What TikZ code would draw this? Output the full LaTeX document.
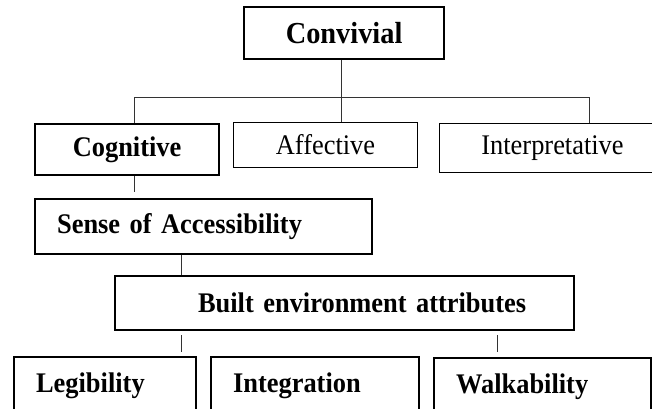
\documentclass[tikz,border=0pt]{standalone}
\usepackage{fontspec}
\setmainfont{Liberation Serif}[FakeStretch = 0.93]

\begin{document}
\begin{tikzpicture}[x = 1pt, y = -1pt]
	\tikzstyle{thickBox} = [draw, line width = 2.2pt, anchor = north west, inner sep = 0pt, font = \fontsize{28.4}{32}\selectfont\bfseries]
	\tikzstyle{thinBox} = [draw, line width = 1pt, anchor = north west, inner sep = 0pt, font = \fontsize{28.4}{32}\selectfont]
	\tikzstyle{leftText} = [inner xsep = 22pt, align = left]
	\tikzstyle{link} = [draw = black!80, line width = 1pt]
	\useasboundingbox (0, 0) rectangle (652, 408);
	% top level
	\node[thickBox, minimum width = 200pt, minimum height = 52pt, font = \fontsize{30.5}{34}\selectfont\bfseries] (conv) at (243, 6) {Convivial};
	% second level
	\node[thickBox, minimum width = 184pt, minimum height = 51pt] (cog) at (34, 123) {Cognitive};
	\node[thinBox, minimum width = 184pt, minimum height = 45pt] (aff) at (233, 122) {Affective};
	\node[thinBox, minimum width = 226pt, minimum height = 49pt] (interp) at (439, 123) {Interpretative};
	% cognitive branch
	\node[thickBox, leftText, text width = 293pt, minimum height = 55pt] (soa) at (34, 198) {Sense of Accessibility};
	\node[thickBox, align = left, text width = 459pt, minimum height = 54pt] (built) at (114, 275) {\hspace*{83pt}Built environment attributes};
	\node[thickBox, leftText, text width = 138pt, minimum height = 58pt] (leg) at (13, 356) {Legibility};
	\node[thickBox, leftText, text width = 164pt, minimum height = 58pt] (integ) at (210, 356) {Integration};
	\node[thickBox, leftText, text width = 173pt, minimum height = 57pt] (walk) at (433, 357) {Walkability};
	% connectors
	\coordinate (bus) at (0, 97);
	\draw[link] ([xshift = -3pt]conv.south) -- ([xshift = -3pt]conv.south |- aff.north);
	\draw[link] ([xshift = 7pt]cog.north) -- ([xshift = 7pt]cog.north |- bus) -| ([xshift = 37pt]interp.north);
	\draw[link, shorten > = 6pt] ([xshift = 7pt]cog.south) -- ([xshift = 7pt]cog.south |- soa.north);
	\draw[link] ([xshift = -22.5pt]soa.south) -- ([xshift = -22.5pt]soa.south |- built.north);
	\draw[link, shorten < = 4pt, shorten > = 4pt] ([xshift = -163.5pt]built.south) -- ([xshift = -163.5pt]built.south |- leg.north);
	\draw[link, shorten < = 4pt, shorten > = 5pt] ([xshift = 152.5pt]built.south) -- ([xshift = 152.5pt]built.south |- walk.north);
\end{tikzpicture}
\end{document}
